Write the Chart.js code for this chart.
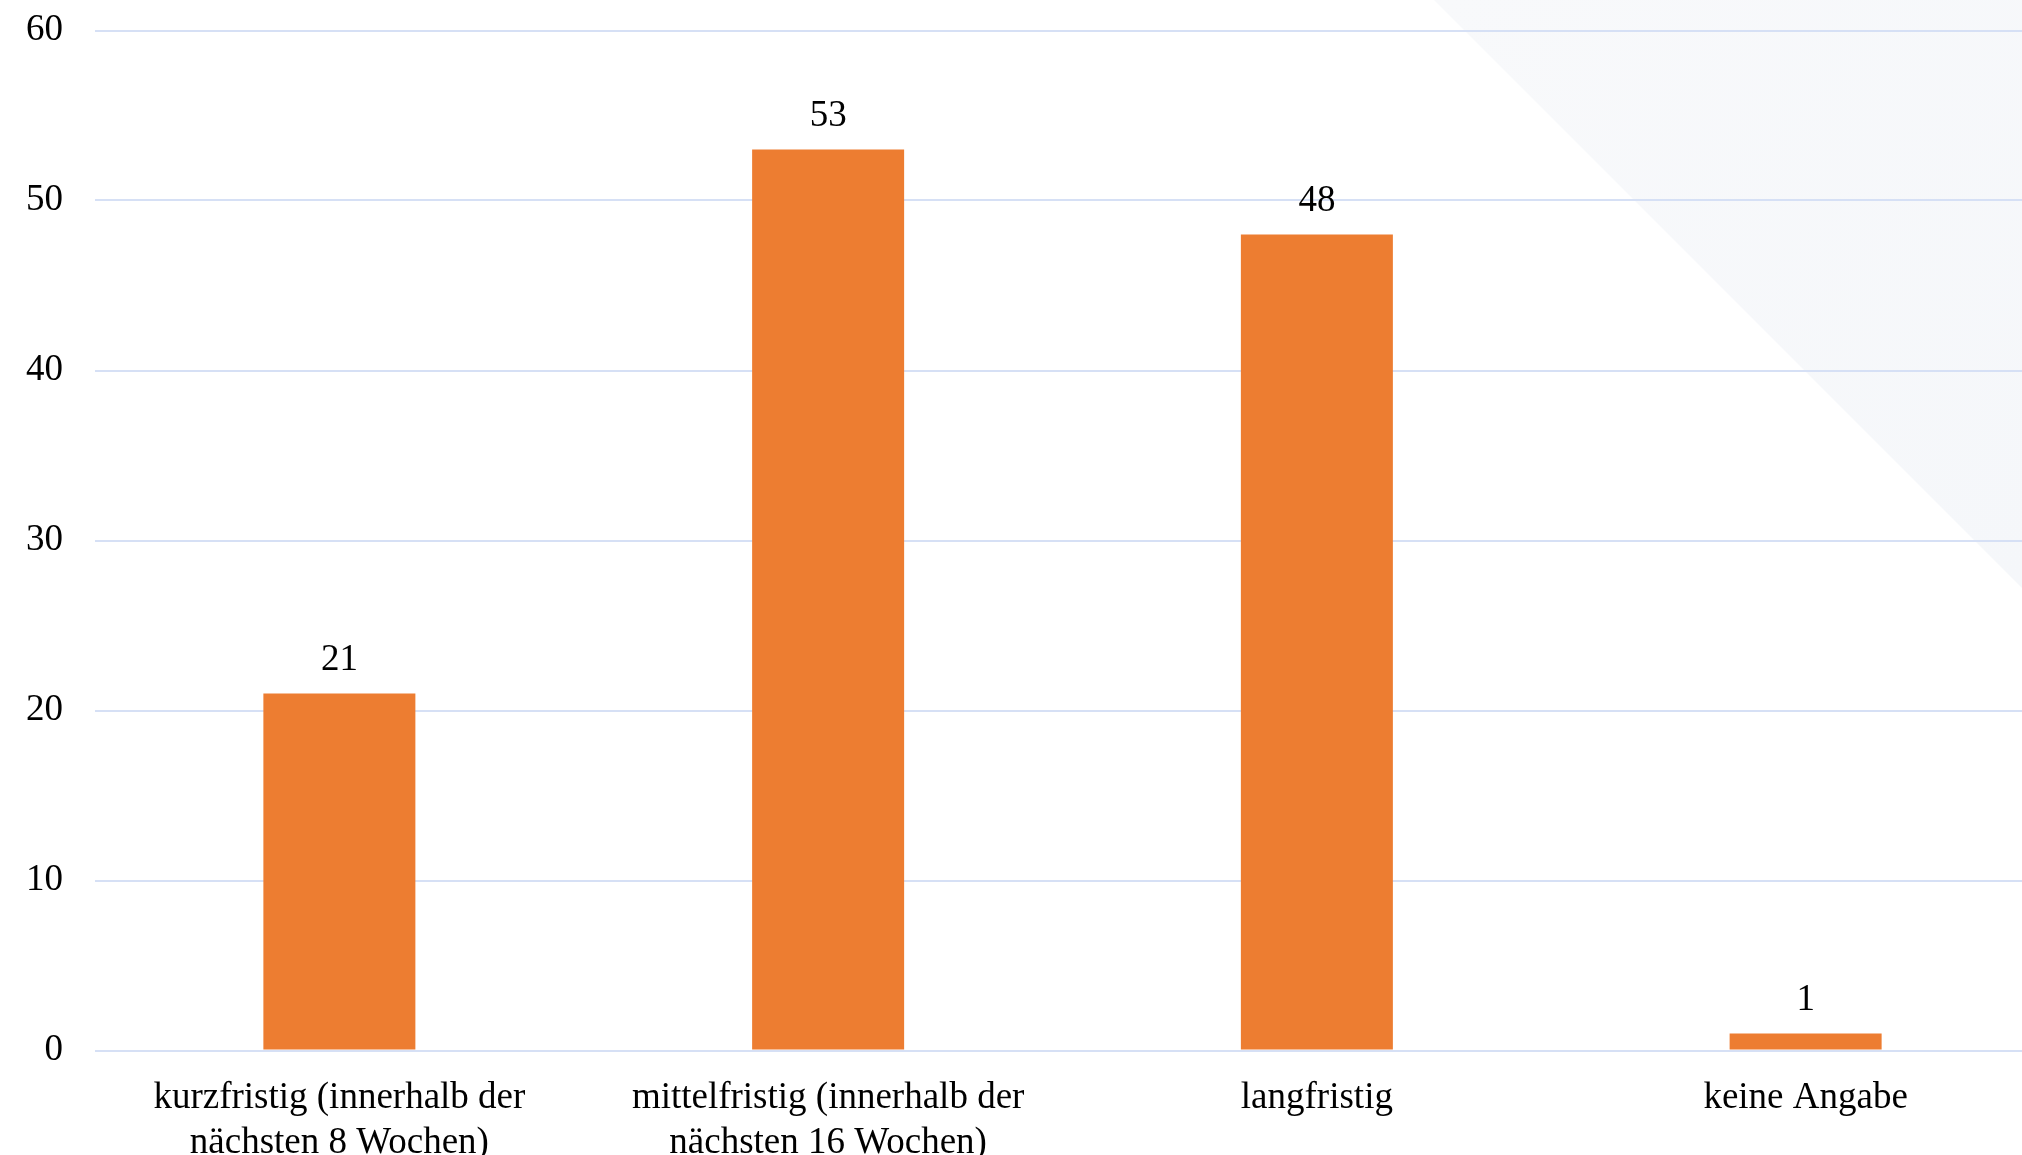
<!DOCTYPE html>
<html>
<head>
<meta charset="utf-8">
<script src="https://cdn.jsdelivr.net/npm/chart.js@4/dist/chart.umd.min.js"></script>
<style>
html,body{margin:0;padding:0;background:#fff;overflow:hidden;width:2022px;height:1155px;}
#wrap{position:absolute;left:0;top:0;width:2050px;height:1155px;}
</style>
</head>
<body>
<div id="wrap"><canvas id="c" width="2050" height="1155"></canvas></div>
<script>
const categories = [
  ["kurzfristig (innerhalb der", "nächsten 8 Wochen)"],
  ["mittelfristig (innerhalb der", "nächsten 16 Wochen)"],
  "langfristig",
  "keine Angabe"
];
const values = [21, 53, 48, 1];
const yTicks = [0, 10, 20, 30, 40, 50, 60];

const FONT = "'Liberation Serif', 'Times New Roman', serif";

const bgPlugin = {
  id: 'bgTriangle',
  beforeDraw(chart) {
    const ctx = chart.ctx;
    ctx.save();
    ctx.fillStyle = '#ffffff';
    ctx.fillRect(0, 0, chart.width, chart.height);
    const g = ctx.createLinearGradient(1434, 0, 2022, 587);
    g.addColorStop(0, '#f8f9fb');
    g.addColorStop(1, '#f5f7fa');
    ctx.fillStyle = g;
    ctx.beginPath();
    ctx.moveTo(1434, 0);
    ctx.lineTo(2050, 0);
    ctx.lineTo(2050, 616);
    ctx.closePath();
    ctx.fill();
    ctx.restore();
  }
};

const labelPlugin = {
  id: 'valueLabels',
  afterDatasetsDraw(chart) {
    const ctx = chart.ctx;
    ctx.save();
    ctx.font = '37px ' + FONT;
    ctx.fillStyle = '#000';
    ctx.textAlign = 'center';
    ctx.textBaseline = 'middle';
    chart.getDatasetMeta(0).data.forEach((bar, i) => {
      ctx.fillText(String(values[i]), bar.x, bar.y - 33);
    });
    ctx.restore();
  }
};

new Chart(document.getElementById('c'), {
  type: 'bar',
  data: {
    labels: categories,
    datasets: [{
      data: values,
      backgroundColor: '#ED7D31',
      borderWidth: 0,
      barPercentage: 0.311,
      categoryPercentage: 1.0
    }]
  },
  options: {
    responsive: false,
    animation: false,
    devicePixelRatio: 1,
    layout: { padding: { left: 0, right: 0, top: 30.5, bottom: 0 } },
    plugins: { legend: { display: false }, tooltip: { enabled: false } },
    scales: {
      x: {
        grid: { display: false },
        border: { display: false },
        ticks: {
          color: '#000',
          font: { family: FONT, size: 37, lineHeight: 1.22 },
          padding: 17,
          maxRotation: 0,
          autoSkip: false
        },
        afterFit(scale) { scale.height = 104.5; scale.paddingLeft = 0; scale.paddingRight = 0; }
      },
      y: {
        min: 0,
        max: 60,
        afterBuildTicks(scale) { scale.ticks = yTicks.map(v => ({ value: v })); },
        grid: { color: '#d6e0f5', lineWidth: 2, drawTicks: false },
        border: { display: false },
        ticks: {
          color: '#000',
          font: { family: FONT, size: 37 },
          padding: 32
        },
        afterFit(scale) { scale.width = 95; scale.paddingTop = 0; scale.paddingBottom = 0; }
      }
    }
  },
  plugins: [bgPlugin, labelPlugin]
});
</script>
</body>
</html>
